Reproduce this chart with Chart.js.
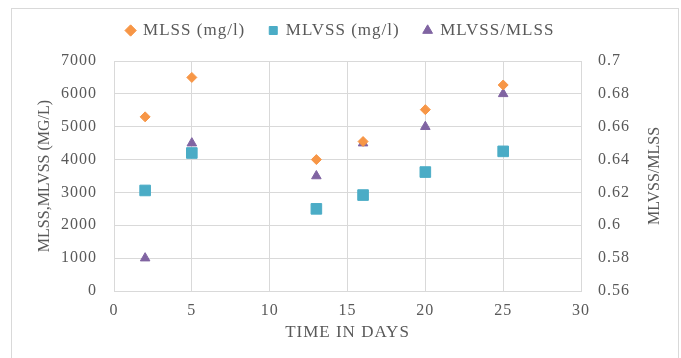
<!DOCTYPE html>
<html>
<head>
<meta charset="utf-8">
<script src="https://cdn.jsdelivr.net/npm/chart.js@4/dist/chart.umd.min.js"></script>
<style>
  body { margin: 0; background: #fff; }
  #wrap { position: relative; width: 681px; height: 358px; }
  #frame { position: absolute; left: 11px; top: 8px; width: 666px; height: 360px;
           border: 1px solid #d9d9d9; border-bottom: none; }
  canvas { position: absolute; left: 0; top: 0; }
</style>
</head>
<body>
<div id="wrap">
  <div id="frame"></div>
  <canvas id="chart" width="681" height="358"></canvas>
</div>
<script>
// values
const days = [2, 5, 13, 16, 20, 25];
const mlss = [5300, 6500, 4000, 4550, 5520, 6270];
const mlvss = [3060, 4200, 2500, 2920, 3620, 4250];
const ratio = [0.58, 0.65, 0.63, 0.65, 0.66, 0.68];
const xTicks = [0, 5, 10, 15, 20, 25, 30];

const grey = "#595959";
const gridCol = "#d9d9d9";
const serif = "'Liberation Serif', 'Times New Roman', serif";

const pts = (ys) => days.map((d, i) => ({ x: d, y: ys[i] }));

// the original text is set a little loose
const spacing = {
  id: "spacing",
  beforeLayout(chart) { chart.ctx.letterSpacing = "1px"; },
  beforeDraw(chart) { chart.ctx.letterSpacing = "1px"; },
};

// extra room under the legend
const legendGap = {
  id: "legendGap",
  beforeLayout(chart) {
    const lg = chart.legend;
    if (lg && !lg._gap) {
      const fit = lg.fit.bind(lg);
      lg.fit = function () { fit(); this.height += 12; };
      lg._gap = true;
    }
  },
};

// both y titles read bottom-to-top and are set tight
const yTitles = {
  id: "yTitles",
  afterDraw(chart) {
    const c = chart.ctx;
    const mid = (chart.scales.y.top + chart.scales.y.bottom) / 2;
    c.save();
    c.letterSpacing = "0px";
    c.font = "16px " + serif;
    c.fillStyle = grey;
    c.textAlign = "center";
    c.textBaseline = "middle";
    [[45, "MLSS,MLVSS (MG/L)"], [655, "MLVSS/MLSS"]].forEach(([x, t]) => {
      c.save();
      c.translate(x, mid);
      c.rotate(-Math.PI / 2);
      c.fillText(t, 0, 0);
      c.restore();
    });
    c.restore();
  },
};

new Chart(document.getElementById("chart"), {
  type: "scatter",
  data: {
    datasets: [
      {
        label: "MLSS (mg/l)",
        data: pts(mlss),
        yAxisID: "y",
        pointStyle: "rectRot",
        pointRadius: 5,
        backgroundColor: "#f79646",
        borderColor: "#f79646",
      },
      {
        label: "MLVSS (mg/l)",
        data: pts(mlvss),
        yAxisID: "y",
        pointStyle: "rect",
        pointRadius: 7.5,
        backgroundColor: "#4bacc6",
        borderColor: "#4bacc6",
      },
      {
        label: "MLVSS/MLSS",
        data: pts(ratio),
        yAxisID: "y1",
        pointStyle: "triangle",
        pointRadius: 5.5,
        backgroundColor: "#8064a2",
        borderColor: "#8064a2",
      },
    ],
  },
  options: {
    responsive: false,
    animation: false,
    layout: { padding: { top: -2, left: 0, right: 0, bottom: 0 } },
    plugins: {
      tooltip: { enabled: false },
      legend: {
        position: "top",
        labels: {
          usePointStyle: true,
          boxWidth: 8,
          boxHeight: 8,
          padding: 24,
          color: grey,
          font: { family: serif, size: 17 },
        },
      },
    },
    scales: {
      x: {
        type: "linear",
        min: 0,
        max: 30,
        afterBuildTicks: (s) => { s.ticks = xTicks.map((v) => ({ value: v })); },
        afterFit: (s) => { s.height = 67; },
        grid: { color: gridCol, drawTicks: false },
        border: { color: gridCol },
        ticks: { color: grey, padding: 10, font: { family: serif, size: 16 } },
        title: {
          display: true,
          text: "TIME IN DAYS",
          color: grey,
          padding: { top: 0, bottom: 15 },
          font: { family: serif, size: 17 },
        },
      },
      y: {
        position: "left",
        min: 0,
        max: 7000,
        afterFit: (s) => { s.width = 114; },
        grid: { color: gridCol, drawTicks: false },
        border: { color: gridCol },
        ticks: {
          stepSize: 1000,
          color: grey,
          padding: 17,
          font: { family: serif, size: 16 },
          callback: (v) => String(v),
        },
      },
      y1: {
        position: "right",
        min: 0.56,
        max: 0.7,
        afterFit: (s) => { s.width = 100; },
        grid: { drawOnChartArea: false, drawTicks: false },
        border: { color: gridCol },
        ticks: {
          stepSize: 0.02,
          color: grey,
          padding: 17,
          font: { family: serif, size: 16 },
          callback: (v) => String(+v.toFixed(2)),
        },
      },
    },
  },
  plugins: [spacing, legendGap, yTitles],
});
</script>
</body>
</html>
